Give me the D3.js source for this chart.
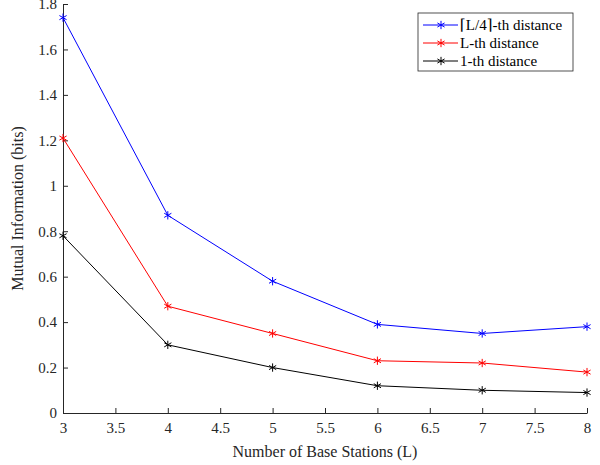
<!DOCTYPE html>
<html>
<head>
<meta charset="utf-8">
<script src="https://cdn.jsdelivr.net/npm/d3@7"></script>
<style>
  body { margin: 0; background: #fff; }
</style>
</head>
<body>
<svg id="chart" width="600" height="465"></svg>
<script>
// data
const stations = [3, 4, 5, 6, 7, 8];
const quarterDist = [1.74, 0.87, 0.58, 0.39, 0.35, 0.38];
const lthDist = [1.21, 0.47, 0.35, 0.23, 0.22, 0.18];
const firstDist = [0.78, 0.30, 0.20, 0.12, 0.10, 0.09];
const seriesNames = ["\u2308L/4\u2309-th distance", "L-th distance", "1-th distance"];
const xTicks = [3, 3.5, 4, 4.5, 5, 5.5, 6, 6.5, 7, 7.5, 8];
const yTicks = [0, 0.2, 0.4, 0.6, 0.8, 1, 1.2, 1.4, 1.6, 1.8];

const serif = "'Liberation Serif', 'Times New Roman', 'DejaVu Serif', serif";

const svg = d3.select("#chart");
const margin = { left: 63, right: 13, top: 4, bottom: 52 };
const width = 600 - margin.left - margin.right;
const height = 465 - margin.top - margin.bottom;

const g = svg.append("g").attr("transform", `translate(${margin.left},${margin.top})`);

const x = d3.scaleLinear().domain([3, 8]).range([0, width]);
const y = d3.scaleLinear().domain([0, 1.8]).range([height, 0]);

// axes, ticks pointing inward like matlab
const xAxis = g.append("g")
  .attr("transform", `translate(0,${height})`)
  .call(d3.axisBottom(x).tickValues(xTicks).tickSizeInner(-5).tickSizeOuter(0)
    .tickFormat(d3.format("")));
xAxis.selectAll("text").attr("dy", null).attr("y", 20);

const yAxis = g.append("g")
  .call(d3.axisLeft(y).tickValues(yTicks).tickSizeInner(-5).tickSizeOuter(0)
    .tickFormat(d3.format("")));
yAxis.selectAll("text").attr("x", -6);

g.selectAll("g").attr("font-family", null).attr("font-size", null);
g.selectAll(".domain, .tick line").attr("stroke", "#262626");
g.selectAll(".tick text")
  .attr("fill", "#262626")
  .style("font-family", serif)
  .style("font-size", "15px");

g.append("text")
  .attr("x", width / 2)
  .attr("y", height + 44)
  .attr("text-anchor", "middle")
  .attr("fill", "#262626")
  .style("font-family", serif)
  .style("font-size", "16px")
  .text("Number of Base Stations (L)");

g.append("text")
  .attr("transform", `translate(-40,${height / 2}) rotate(-90)`)
  .attr("text-anchor", "middle")
  .attr("fill", "#262626")
  .style("font-family", serif)
  .style("font-size", "16px")
  .text("Mutual Information (bits)");

const series = [
  { name: seriesNames[0], values: quarterDist, color: "#0000ff" },
  { name: seriesNames[1], values: lthDist, color: "#ff0000" },
  { name: seriesNames[2], values: firstDist, color: "#000000" }
];

const line = d3.line()
  .x((d, i) => x(stations[i]))
  .y(d => y(d));

const star = d3.symbol().type(d3.symbolAsterisk).size(48);

series.forEach(function (s) {
  g.append("path")
    .attr("d", line(s.values))
    .attr("fill", "none")
    .attr("stroke", s.color)
    .attr("stroke-width", 1);

  g.selectAll(null)
    .data(s.values)
    .enter()
    .append("path")
    .attr("d", star)
    .attr("transform", (d, i) => `translate(${x(stations[i])},${y(d)})`)
    .attr("fill", "none")
    .attr("stroke", s.color)
    .attr("stroke-width", 1);
});

// legend
const legend = svg.append("g").attr("transform", "translate(418,13)");
legend.append("rect")
  .attr("width", 155)
  .attr("height", 58)
  .attr("fill", "#fff")
  .attr("stroke", "#262626")
  .attr("stroke-width", 0.8);

series.forEach(function (s, i) {
  const ly = 12 + i * 18;
  legend.append("line")
    .attr("x1", 5).attr("x2", 40)
    .attr("y1", ly).attr("y2", ly)
    .attr("stroke", s.color);
  legend.append("path")
    .attr("d", star)
    .attr("transform", `translate(23,${ly})`)
    .attr("fill", "none")
    .attr("stroke", s.color);
  legend.append("text")
    .attr("x", 42)
    .attr("y", ly + 5)
    .attr("fill", "#000")
    .style("font-family", serif)
    .style("font-size", "15px")
    .text(s.name);
});
</script>
</body>
</html>
